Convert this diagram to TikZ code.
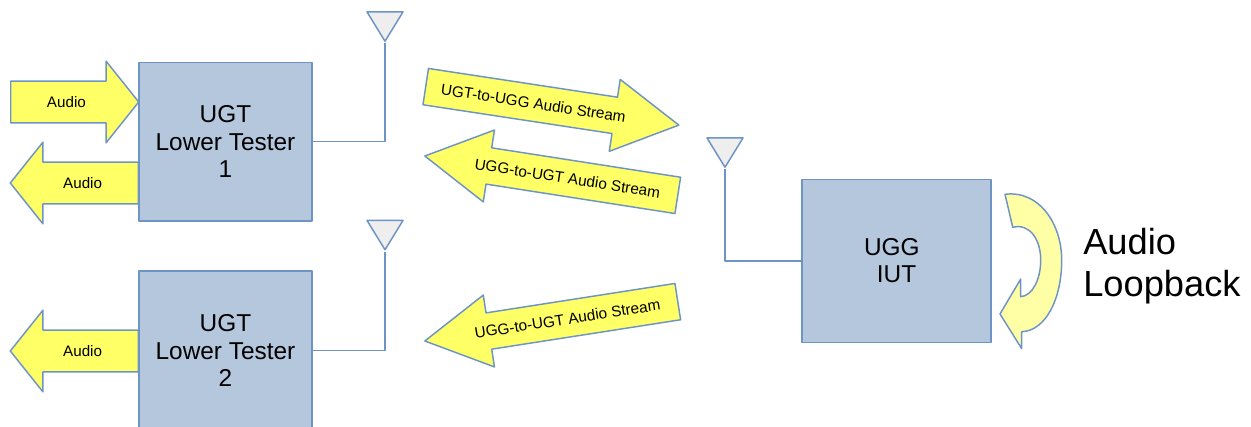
\documentclass[tikz,border=0pt]{standalone}
\usepackage{fontspec}
\setmainfont{Liberation Sans}
\usepackage{xcolor}
\usetikzlibrary{shapes.geometric,shapes.arrows}
\definecolor{boxfill}{HTML}{B4C7DC}
\definecolor{edge}{HTML}{6E94C6}
\definecolor{flow}{HTML}{FFFF66}
\definecolor{loop}{HTML}{FFFFA6}
\definecolor{antfill}{HTML}{EEEEEE}
\tikzset{
  base/.style={draw=edge, line width=1.1pt, line join=round},
  unit/.style={base, rectangle, fill=boxfill, align=center, inner sep=0pt, font=\fontsize{18.3}{20.6}\selectfont},
  ant/.style={base, isosceles triangle, isosceles triangle stretches, shape border rotate=270,
    minimum width=27pt, minimum height=22pt, inner sep=0pt, fill=antfill},
  audioflow/.style={base, single arrow, fill=flow, anchor=tail, inner xsep=0pt, inner ysep=10.9pt, minimum height=96pt, minimum width=60pt,
    single arrow head extend=15pt, single arrow tip angle=102.7, font=\fontsize{11.4}{13}\selectfont},
  streamflow/.style={base, single arrow, fill=flow, anchor=tail, inner xsep=0pt, inner ysep=9pt, minimum height=192pt, minimum width=53.6pt,
    single arrow head extend=13.5pt, single arrow tip angle=58.6, font=\fontsize{11.5}{13}\selectfont},
  lab/.style={font=\fontsize{27.2}{31}\selectfont, align=left, anchor=west, inner sep=0pt},
}
\begin{document}
\begin{tikzpicture}[x=0.75pt,y=-0.75pt]
  \useasboundingbox (0,0) rectangle (1251,427);
  \clip (0,0) rectangle (1251,427);

  % test units
  \node[unit, minimum width=129.75pt, minimum height=118.9pt] (ugtone) at (225.5,141.75) {UGT\\Lower Tester\\1};
  \node[unit, minimum width=129.75pt, minimum height=118.9pt] (ugttwo) at (225.5,350.5) {UGT\\Lower Tester\\2};
  \node[unit, minimum width=141.75pt, minimum height=122.25pt] (ugg) at (896.5,260.8) {UGG\hspace*{7pt}\\IUT};

  % antennas
  \node[ant] (antone) at (385,22) {};
  \node[ant] (anttwo) at (385,230.5) {};
  \node[ant] (antugg) at (725,148) {};
  \draw[base] (ugtone.east) -| (antone.apex);
  \draw[base] (ugttwo.east) -| (anttwo.apex);
  \draw[base] (ugg.west) -| (antugg.apex);

  % audio at the testers
  \node[audioflow] (audioin) at (10,102) {Audio};
  \node[audioflow, shape border rotate=180] (audioout) at (139,183) {Audio};
  \node[audioflow, shape border rotate=180] (audiotwo) at (139,351) {Audio};

  % streams over the air
  \node[streamflow, rotate=-8.65] (streamup) at (425,86.5) {UGT-to-UGG Audio Stream\hspace*{4pt}};
  \node[streamflow, rotate=-8.85, shape border rotate=180] (streamdown) at (678.5,195.5) {UGG-to-UGT Audio Stream};
  \node[streamflow, rotate=8.85, shape border rotate=180] (streamtwo) at (678.5,301.5) {UGG-to-UGT Audio Stream};

  % loopback
  \draw[base, fill=loop] (1005,194.3) .. controls (1040,190) and (1061.7,225) .. (1061.7,260)
    .. controls (1061.7,300) and (1045,331) .. (1021.7,331.7) -- (1021.7,348.7) -- (1000,314)
    -- (1020.7,279) -- (1020.7,296.7) .. controls (1032,296) and (1040.7,280) .. (1040.7,260)
    .. controls (1040.7,240) and (1030,223) .. (1012.7,227.3) -- cycle;
  \node[lab] (looplab) at (1083,266) {Audio\\Loopback};
\end{tikzpicture}
\end{document}
